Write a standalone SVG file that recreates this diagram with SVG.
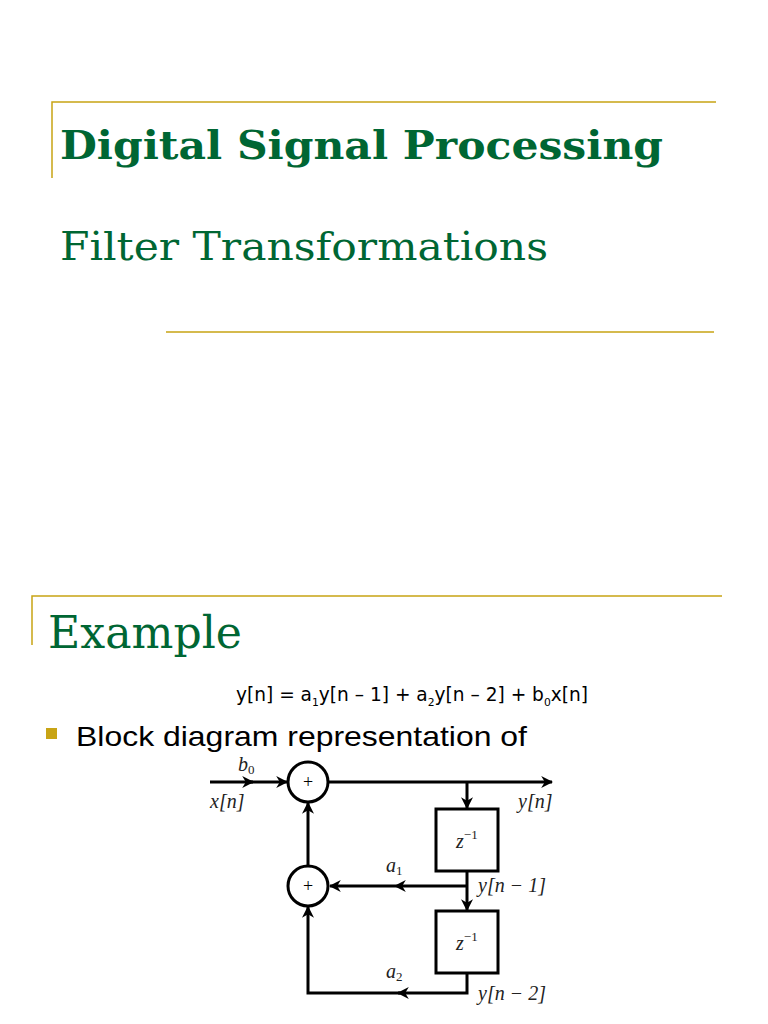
<svg xmlns="http://www.w3.org/2000/svg" width="768" height="1024" viewBox="0 0 768 1024">
<style>
.g{stroke:#c8a415;stroke-width:1.5;fill:none}
.t{fill:#006633;font-family:"DejaVu Serif",serif}
.w{stroke:#000;stroke-width:3;fill:none}
.m{font-family:"Liberation Serif",serif;font-style:italic;font-size:20px;fill:#222}
</style>
<defs><marker id="a" viewBox="0 0 10 10" refX="9" refY="5" markerWidth="4" markerHeight="4" orient="auto"><path d="M0,0L10,5L0,10L3,5z" fill="#000"/></marker></defs>
<rect width="768" height="1024" fill="#fff"/>
<path class="g" d="M52,178V102H716M166,332H714M32,645V596H722"/>
<text class="t" x="60" y="159" font-size="40" font-weight="bold" textLength="603" lengthAdjust="spacingAndGlyphs">Digital Signal Processing</text>
<text class="t" x="60" y="260" font-size="40" textLength="488" lengthAdjust="spacingAndGlyphs">Filter Transformations</text>
<text class="t" x="48" y="648" font-size="44" textLength="194" lengthAdjust="spacingAndGlyphs">Example</text>
<text x="236" y="701" font-family="DejaVu Sans,sans-serif" font-size="19" textLength="352" lengthAdjust="spacingAndGlyphs">y[n] = a<tspan font-size="11" dy="5">1</tspan><tspan dy="-5">y[n – 1] + a</tspan><tspan font-size="11" dy="5">2</tspan><tspan dy="-5">y[n – 2] + b</tspan><tspan font-size="11" dy="5">0</tspan><tspan dy="-5">x[n]</tspan></text>
<rect x="46" y="728" width="11" height="11" fill="#c8a415"/>
<text x="76" y="746" font-family="Liberation Sans,sans-serif" font-size="28" textLength="451" lengthAdjust="spacingAndGlyphs">Block diagram representation of</text>
<g id="connectors" class="w">
<path d="M210,782H253" marker-end="url(#a)"/><path d="M250,782H287" marker-end="url(#a)"/>
<path d="M328,782H552" marker-end="url(#a)"/>
<path d="M467,782V808" marker-end="url(#a)"/>
<path d="M467,871V910" marker-end="url(#a)"/>
<path d="M467,886H395" marker-end="url(#a)"/><path d="M395,886H330" marker-end="url(#a)"/>
<path d="M308,866V803" marker-end="url(#a)"/>
<path d="M467,973V993H398" marker-end="url(#a)"/><path d="M400,993H308V907" marker-end="url(#a)"/>
</g>
<g id="sum1"><circle class="w" cx="308" cy="782" r="20"/><text x="308" y="788" text-anchor="middle" font-family="Liberation Serif,serif" font-size="18">+</text></g>
<g id="sum2"><circle class="w" cx="308" cy="886" r="20"/><text x="308" y="892" text-anchor="middle" font-family="Liberation Serif,serif" font-size="18">+</text></g>
<g id="d1"><rect class="w" x="436" y="809" width="62" height="62"/><text class="m" x="456" y="848">z<tspan font-style="normal" font-size="13" dy="-9">−1</tspan></text></g>
<g id="d2"><rect class="w" x="436" y="911" width="62" height="62"/><text class="m" x="456" y="950">z<tspan font-style="normal" font-size="13" dy="-9">−1</tspan></text></g>
<text class="m" x="238" y="771">b<tspan font-style="normal" font-size="13" dy="3">0</tspan></text>
<text class="m" x="210" y="808">x[n]</text>
<text class="m" x="518" y="808">y[n]</text>
<text class="m" x="386" y="872">a<tspan font-style="normal" font-size="13" dy="3">1</tspan></text>
<text class="m" x="478" y="892">y[n − 1]</text>
<text class="m" x="386" y="978">a<tspan font-style="normal" font-size="13" dy="3">2</tspan></text>
<text class="m" x="478" y="1000">y[n − 2]</text>
</svg>
